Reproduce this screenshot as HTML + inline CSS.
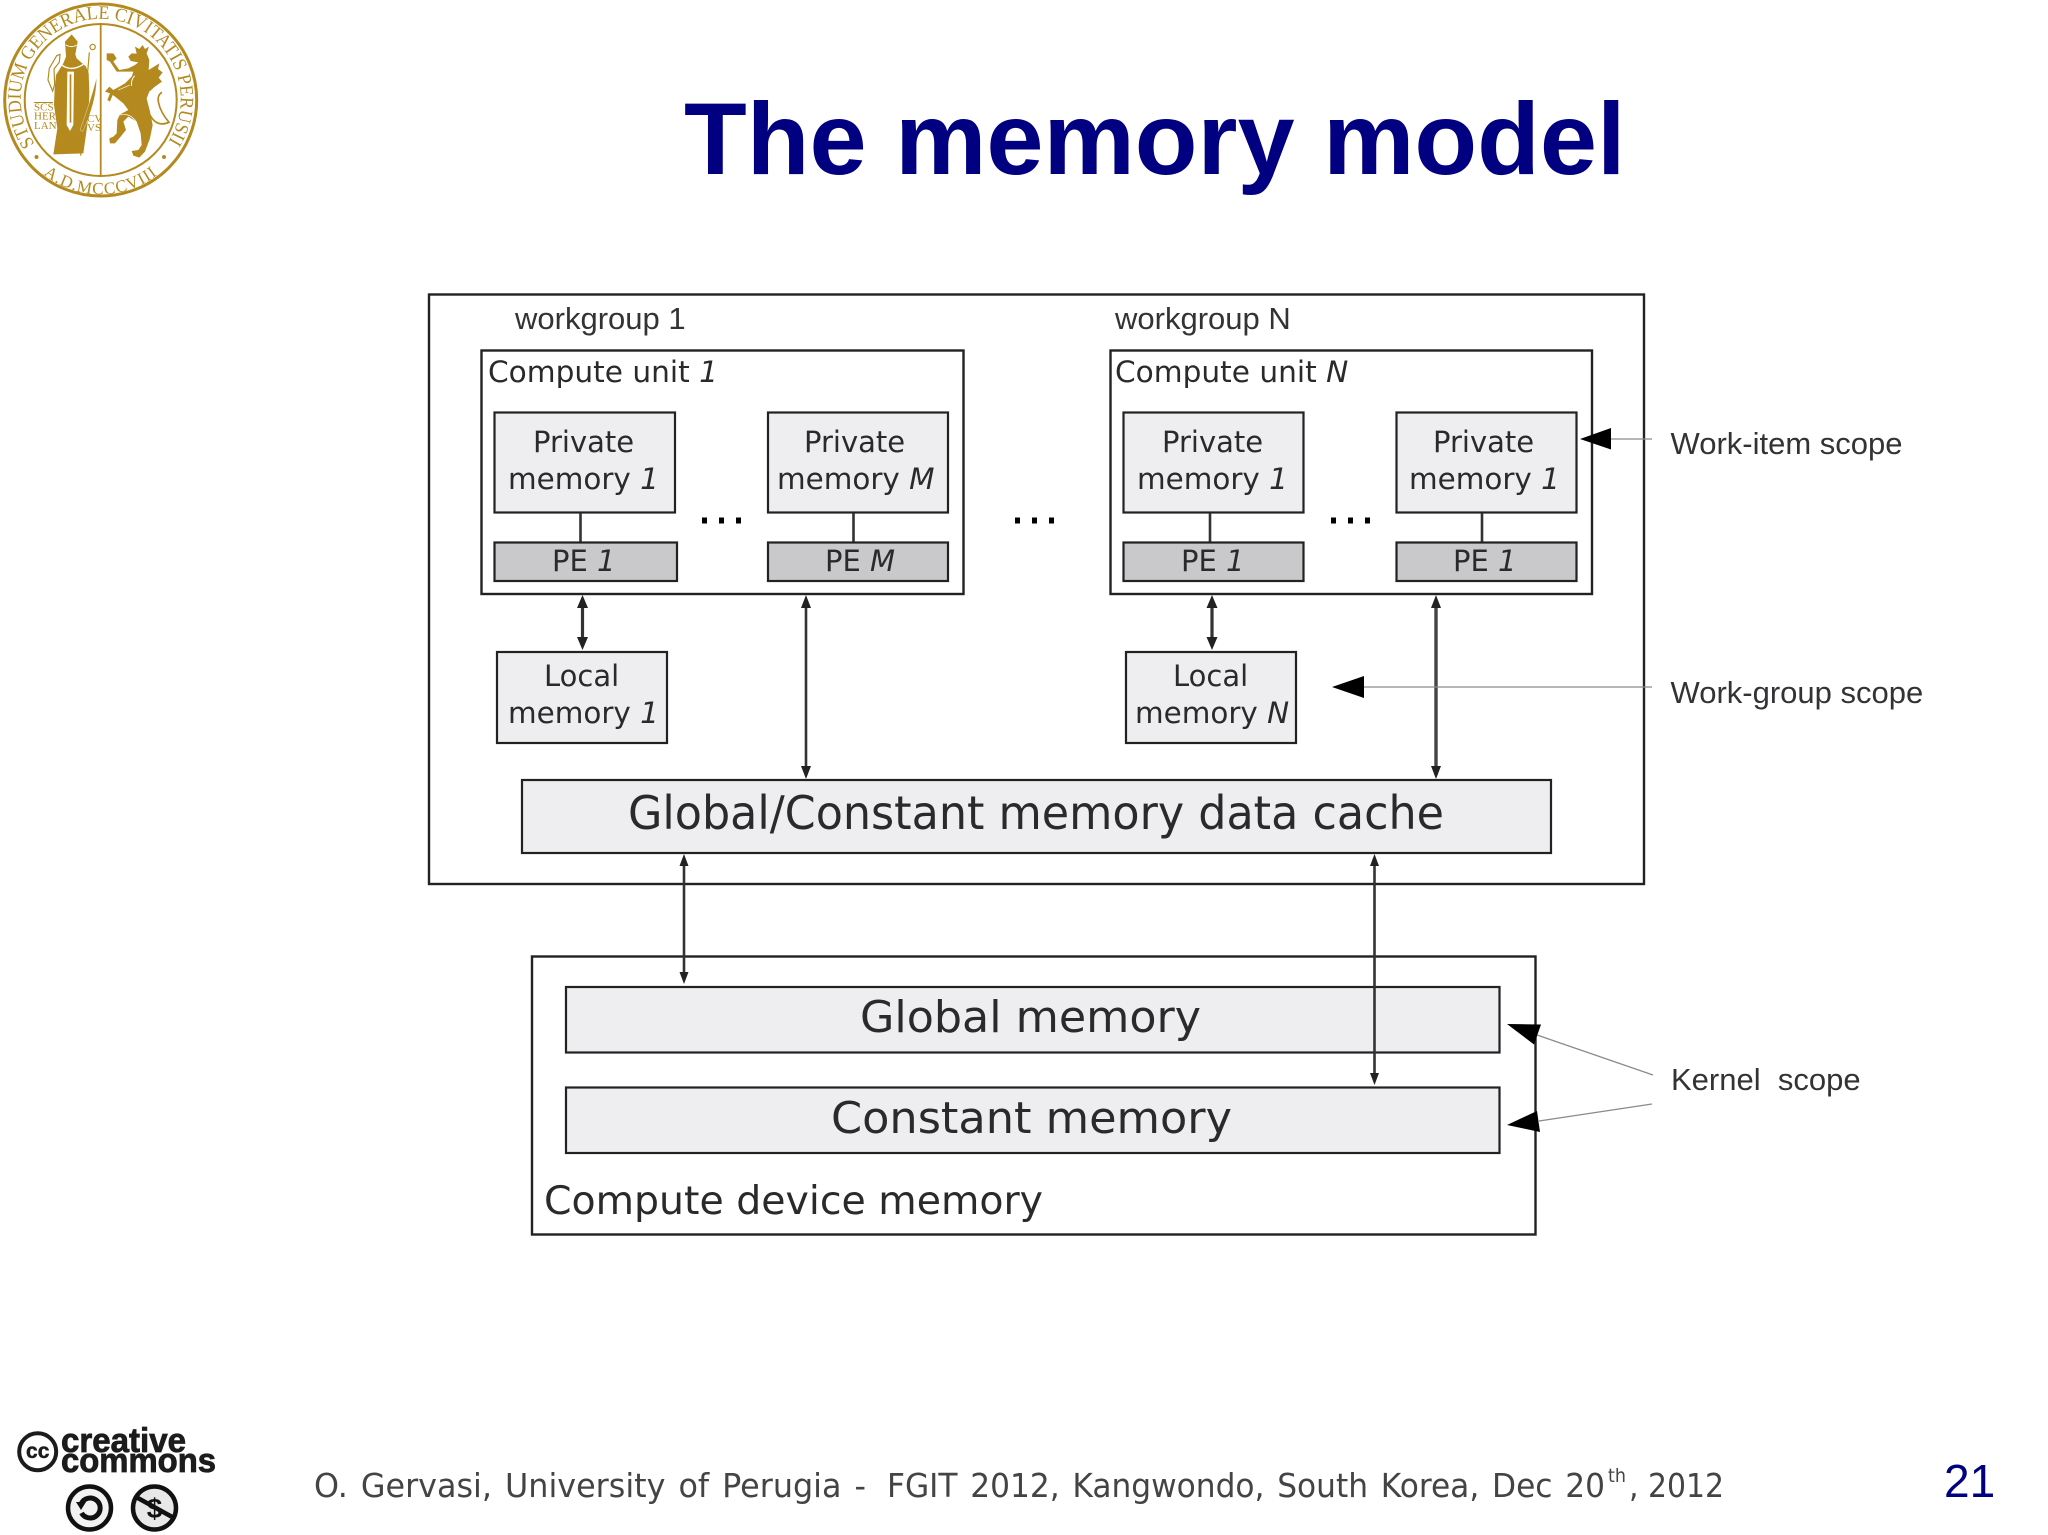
<!DOCTYPE html>
<html lang="en">
<head>
<meta charset="utf-8">
<title>The memory model</title>
<style>
html,body{margin:0;padding:0;background:#fff}
svg{display:block}
.d{font-family:"DejaVu Sans",sans-serif;fill:#2a2a2c}
.l{font-family:"Liberation Sans",sans-serif;fill:#333336}
.b{fill:#eeedf0;stroke:#222;stroke-width:2.2}
.p{fill:#c9c9cb;stroke:#222;stroke-width:2.2}
.w{fill:none;stroke:#222;stroke-width:2.4}
.c{stroke:#333;stroke-width:2.6;fill:none}
.h{fill:#222}
.s{fill:#000}
.t{stroke:#8a8a8a;stroke-width:1.2;fill:none}
.i{font-style:italic}
</style>
</head>
<body>
<svg xmlns="http://www.w3.org/2000/svg" width="2048" height="1535" viewBox="0 0 2048 1535" style="filter:blur(0.35px)">
<rect width="2048" height="1535" fill="#fff"/>

<!-- Logo -->
<g fill="#b48a1e" stroke="none">
  <circle cx="100.700" cy="100" r="96" fill="none" stroke="#b48a1e" stroke-width="3"/>
  <circle cx="100.700" cy="100" r="76" fill="none" stroke="#b48a1e" stroke-width="2"/>
  <line x1="100.700" y1="24" x2="100.700" y2="176" stroke="#b48a1e" stroke-width="1.800"/>
  <defs>
    <path id="arcTop" d="M34.700 144 A80 80 0 1 1 166.700 144"/>
    <path id="arcBot" d="M36 168 A93 93 0 0 0 165.400 168"/>
  </defs>
  <text font-family="'Liberation Serif',serif" font-size="19" fill="#b48a1e"><textPath href="#arcTop" textLength="344" lengthAdjust="spacingAndGlyphs">STUDIUM GENERALE CIVITATIS PERUSII</textPath></text>
  <text font-family="'Liberation Serif',serif" font-size="17" fill="#b48a1e" letter-spacing="1"><textPath href="#arcBot" startOffset="50%" text-anchor="middle">A.D.MCCCVIII</textPath></text>
  <circle cx="36.500" cy="157" r="2"/>
  <circle cx="164" cy="157" r="2"/>

  <!-- Saint -->
  <g transform="translate(30 25) scale(0.3333)">
    <path d="M125 28 L143 50 L136 88 L140 100 L168 125 L176 145 L178 200 L176 260 L172 300 L160 385 L70 388 L82 310 L72 240 L74 190 L78 150 L100 115 L108 95 L105 50 Z"/>
    <path d="M112 140 L132 140 L130 300 L120 318 L110 300 Z" fill="#fff"/>
    <rect x="119" y="148" width="5" height="145"/>
    <path d="M85 112 Q120 145 160 118" fill="none" stroke="#fff" stroke-width="4"/>
    <path d="M108 60 Q125 70 140 60" fill="none" stroke="#fff" stroke-width="3"/>
    <path d="M80 92 L90 88 L88 112 L72 132 L74 178 L68 198 L54 165 L58 130 Z" fill="#fff" stroke="#b48a1e" stroke-width="3.500"/>
    <path d="M152 392 L178 82" fill="none" stroke="#b48a1e" stroke-width="3.500"/>
    <circle cx="188" cy="66" r="8" fill="none" stroke="#b48a1e" stroke-width="3.500"/>
    <path d="M150 315 Q178 240 200 158 Q200 230 158 320 Z" stroke="#fff" stroke-width="1"/>
  </g>
  <rect x="34" y="102" width="19" height="1"/>
  <g font-family="'Liberation Serif',serif" font-size="11" fill="#b48a1e">
    <text x="34" y="110.500">SCS</text>
    <text x="34" y="119.500">HER</text>
    <text x="34" y="129">LAN</text>
    <text x="87" y="122">CV</text>
    <text x="87" y="131">VS</text>
  </g>

  <!-- Griffin -->
  <g transform="translate(100 35) scale(0.3333)">
    <path d="M105 35 L118 42 L128 30 L135 42 L147 35 L140 55 L148 75 L146 105 L178 85 L174 102 L188 112 L176 128 L186 140 L165 155 L148 170 L140 190 L150 230 L158 270 L150 310 L135 350 L118 368 L100 362 L95 348 L115 345 L125 330 L122 295 L110 260 L85 245 L70 260 L78 285 L62 305 L45 325 L30 325 L28 310 L40 305 L50 295 L52 255 L60 238 L85 225 L70 205 L45 185 L38 180 L30 200 L22 195 L30 175 L15 170 L28 155 L40 165 L75 145 L95 125 L100 110 L50 110 L30 80 L20 75 L20 55 L40 55 L50 70 L40 80 L58 105 L85 100 L105 90 L115 82 L92 78 L85 65 L95 55 L110 56 Z"/>
    <path d="M150 240 Q170 278 207 262 Q180 230 175 200 Q172 180 186 172" fill="none" stroke="#b48a1e" stroke-width="5"/>
    <path d="M104 122 Q92 135 95 152" fill="none" stroke="#fff" stroke-width="3"/>
    <path d="M55 165 L90 150" fill="none" stroke="#fff" stroke-width="2"/>
    <path d="M60 240 Q90 232 110 262" fill="none" stroke="#fff" stroke-width="2"/>
  </g>
</g>

<!-- Title -->
<text x="684" y="174" font-family="'Liberation Sans',sans-serif" font-weight="bold" font-size="102" fill="#000080" textLength="941.500" lengthAdjust="spacingAndGlyphs">The memory model</text>

<!-- Outer workgroup box -->
<rect class="w" x="429" y="294.500" width="1215" height="589.500"/>

<text class="l" x="515" y="329" font-size="31">workgroup 1</text>
<text class="l" x="1115" y="329" font-size="31">workgroup N</text>

<!-- Compute unit 1 -->
<rect class="w" x="481.500" y="350.500" width="482" height="243.500"/>
<text class="d" x="488" y="382" font-size="29.600">Compute unit <tspan class="i">1</tspan></text>
<rect class="b" x="494.500" y="412.500" width="180.500" height="100"/>
<rect class="b" x="768" y="412.500" width="180" height="100"/>
<line class="c" x1="580.500" y1="513" x2="580.500" y2="542"/>
<line class="c" x1="853.500" y1="513" x2="853.500" y2="542"/>
<rect class="p" x="494.500" y="542.500" width="182.500" height="38.500"/>
<rect class="p" x="768" y="542.500" width="180" height="38.500"/>
<text class="d" x="533" y="452" font-size="29">Private</text>
<text class="d" x="508" y="489" font-size="29.400">memory <tspan class="i">1</tspan></text>
<text class="d" x="804" y="452" font-size="29">Private</text>
<text class="d" x="777" y="489" font-size="29.400">memory <tspan class="i">M</tspan></text>
<text class="d" x="552" y="571" font-size="29">PE <tspan class="i">1</tspan></text>
<text class="d" x="825" y="571" font-size="29">PE <tspan class="i">M</tspan></text>
<g class="s">
  <rect x="702" y="517.500" width="5" height="6"/><rect x="719" y="517.500" width="5" height="6"/><rect x="736" y="517.500" width="5" height="6"/>
  <rect x="1015" y="517.500" width="5" height="6"/><rect x="1032" y="517.500" width="5" height="6"/><rect x="1049" y="517.500" width="5" height="6"/>
  <rect x="1331" y="517.500" width="5" height="6"/><rect x="1348" y="517.500" width="5" height="6"/><rect x="1365" y="517.500" width="5" height="6"/>
</g>

<!-- Compute unit N -->
<rect class="w" x="1110.500" y="350.500" width="481.500" height="243.500"/>
<text class="d" x="1115" y="382" font-size="29.600">Compute unit <tspan class="i">N</tspan></text>
<rect class="b" x="1123.500" y="412.500" width="180" height="100"/>
<rect class="b" x="1396.500" y="412.500" width="180" height="100"/>
<line class="c" x1="1210" y1="513" x2="1210" y2="542"/>
<line class="c" x1="1482" y1="513" x2="1482" y2="542"/>
<rect class="p" x="1123.500" y="542.500" width="180" height="38.500"/>
<rect class="p" x="1396.500" y="542.500" width="180" height="38.500"/>
<text class="d" x="1162" y="452" font-size="29">Private</text>
<text class="d" x="1137" y="489" font-size="29.400">memory <tspan class="i">1</tspan></text>
<text class="d" x="1433" y="452" font-size="29">Private</text>
<text class="d" x="1409" y="489" font-size="29.400">memory <tspan class="i">1</tspan></text>
<text class="d" x="1181" y="571" font-size="29">PE <tspan class="i">1</tspan></text>
<text class="d" x="1453" y="571" font-size="29">PE <tspan class="i">1</tspan></text>

<!-- Local memory -->
<rect class="b" x="497" y="652" width="170" height="91"/>
<rect class="b" x="1126" y="652" width="170" height="91"/>
<text class="d" x="544" y="686" font-size="29">Local</text>
<text class="d" x="508" y="723" font-size="29.400">memory <tspan class="i">1</tspan></text>
<text class="d" x="1173" y="686" font-size="29">Local</text>
<text class="d" x="1135" y="723" font-size="29.400">memory <tspan class="i">N</tspan></text>

<!-- Vertical connectors top -->
<line class="c" x1="582.500" y1="600" x2="582.500" y2="646" style="stroke-width:3.200"/>
<path class="h" d="M582.500 595 l-5.500 13 h11 z M582.500 650 l-5.500 -13 h11 z"/>
<line class="c" x1="1212" y1="600" x2="1212" y2="646" style="stroke-width:3.200"/>
<path class="h" d="M1212 595 l-5.500 13 h11 z M1212 650 l-5.500 -13 h11 z"/>
<line class="c" x1="806" y1="600" x2="806" y2="775"/>
<path class="h" d="M806 595 l-5 13 h10 z M806 779 l-5 -13 h10 z"/>
<line stroke="#444" stroke-width="3.400" x1="1436" y1="600" x2="1436" y2="775"/>
<path class="h" d="M1436 595 l-5 13 h10 z M1436 779 l-5 -13 h10 z"/>

<!-- Global/constant cache -->
<rect class="b" x="522" y="780" width="1029" height="73"/>
<text class="d" x="628" y="829" font-size="46" textLength="816" lengthAdjust="spacingAndGlyphs">Global/Constant memory data cache</text>

<!-- Device memory -->
<rect class="w" x="532" y="956.500" width="1003.500" height="278"/>
<rect class="b" x="566" y="987" width="933.500" height="65.500"/>
<rect class="b" x="566" y="1087.500" width="933.500" height="65.500"/>
<text class="d" x="860" y="1032" font-size="44" textLength="341" lengthAdjust="spacingAndGlyphs">Global memory</text>
<text class="d" x="831" y="1133" font-size="44" textLength="401" lengthAdjust="spacingAndGlyphs">Constant memory</text>
<text class="d" x="544" y="1214" font-size="39.300" textLength="499" lengthAdjust="spacingAndGlyphs">Compute device memory</text>

<!-- Vertical connectors lower -->
<line class="c" x1="684" y1="858" x2="684" y2="980"/>
<path class="h" d="M684 854 l-4.500 12 h9 z M684 984 l-4.500 -12 h9 z"/>
<line class="c" x1="1374.500" y1="858" x2="1374.500" y2="1080"/>
<path class="h" d="M1374.500 854 l-4.500 12 h9 z M1374.500 1085 l-4.500 -12 h9 z"/>

<!-- Scope annotations -->
<line class="t" x1="1611" y1="439" x2="1652" y2="439"/>
<path class="s" d="M1580 439 L1611 428 L1611 449.500 Z"/>
<line class="t" x1="1364" y1="687" x2="1652" y2="687"/>
<path class="s" d="M1332 687 L1364 676 L1364 698 Z"/>
<line class="t" x1="1537" y1="1035" x2="1653" y2="1075"/>
<path class="s" d="M1507 1024 L1541 1024.500 L1534 1044.500 Z"/>
<line class="t" x1="1539" y1="1121" x2="1652" y2="1104"/>
<path class="s" d="M1507 1125 L1537 1111 L1540 1132 Z"/>
<text class="l" x="1670.500" y="454" font-size="31">Work-item scope</text>
<text class="l" x="1670.500" y="703" font-size="31">Work-group scope</text>
<text class="l" x="1671" y="1090" font-size="31" xml:space="preserve">Kernel  scope</text>

<!-- Creative Commons -->
<g>
  <circle cx="37.700" cy="1451.700" r="18.500" fill="none" stroke="#1c1c1c" stroke-width="4"/>
  <text x="37.700" y="1458" text-anchor="middle" font-family="'Liberation Sans',sans-serif" font-weight="bold" font-size="21" fill="#1c1c1c" stroke="#1c1c1c" stroke-width="0.500">cc</text>
  <text x="61" y="1452" font-family="'Liberation Sans',sans-serif" font-weight="bold" font-size="34" fill="#1c1c1c" stroke="#1c1c1c" stroke-width="0.800" textLength="125" lengthAdjust="spacingAndGlyphs">creative</text>
  <text x="61" y="1472" font-family="'Liberation Sans',sans-serif" font-weight="bold" font-size="34" fill="#1c1c1c" stroke="#1c1c1c" stroke-width="0.800" textLength="155" lengthAdjust="spacingAndGlyphs">commons</text>
  <circle cx="89.500" cy="1508" r="21.500" fill="#f2f2f2" stroke="#111" stroke-width="4.500"/>
  <path d="M81.500 1503 A10 10 0 1 1 81.500 1513" fill="none" stroke="#111" stroke-width="5"/>
  <path d="M76 1502 h10 l-5 8 z" fill="#111"/>
  <circle cx="154.500" cy="1508" r="21.500" fill="#e8e8e8" stroke="#111" stroke-width="4.500"/>
  <text x="154.500" y="1518" text-anchor="middle" font-family="'Liberation Sans',sans-serif" font-weight="bold" font-size="28" fill="#111">$</text>
  <line x1="136" y1="1497" x2="174" y2="1518" stroke="#111" stroke-width="4.500"/>
</g>

<!-- Footer -->
<text x="314" y="1497" font-family="'DejaVu Sans',sans-serif" font-size="33" fill="#444447" textLength="552" lengthAdjust="spacingAndGlyphs" word-spacing="3">O. Gervasi, University of Perugia -</text>
<text x="887" y="1497" font-family="'DejaVu Sans',sans-serif" font-size="33" fill="#444447" textLength="718" lengthAdjust="spacingAndGlyphs" word-spacing="3">FGIT 2012, Kangwondo, South Korea, Dec 20</text>
<text x="1608" y="1482" font-family="'DejaVu Sans',sans-serif" font-size="19" fill="#444447" textLength="18" lengthAdjust="spacingAndGlyphs">th</text>
<text x="1629" y="1497" font-family="'DejaVu Sans',sans-serif" font-size="33" fill="#444447" textLength="95" lengthAdjust="spacingAndGlyphs">, 2012</text>
<text x="1944" y="1497" font-family="'Liberation Sans',sans-serif" font-size="46" fill="#000080">21</text>
</svg>
</body>
</html>
